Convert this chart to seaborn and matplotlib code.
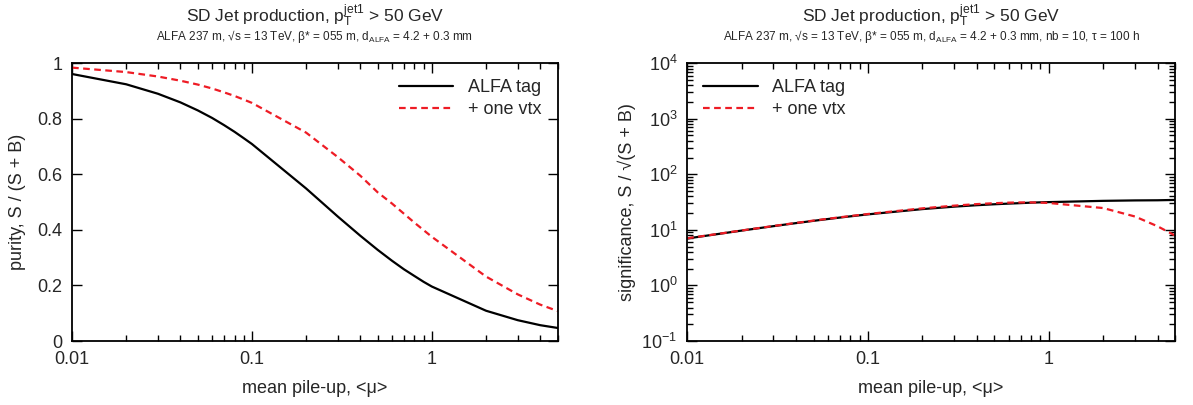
import numpy as np
import pandas as pd
import matplotlib
matplotlib.use("Agg")
import matplotlib.pyplot as plt
import matplotlib.ticker as mticker
import seaborn as sns

# mean pile-up values
mu = [0.01, 0.02, 0.03, 0.04, 0.05, 0.06, 0.07, 0.08, 0.09,
      0.1, 0.2, 0.3, 0.4, 0.5, 0.6, 0.7, 0.8, 0.9,
      1, 2, 3, 4, 5]

# purity S/(S+B)
purity_tag = [0.961, 0.924, 0.890, 0.859, 0.830, 0.803, 0.777, 0.753, 0.730,
              0.709, 0.549, 0.448, 0.379, 0.328, 0.289, 0.258, 0.234, 0.213,
              0.196, 0.109, 0.075, 0.057, 0.047]
purity_vtx = [0.984, 0.968, 0.952, 0.937, 0.923, 0.909, 0.895, 0.882, 0.869,
              0.857, 0.750, 0.662, 0.595, 0.535, 0.495, 0.458, 0.426, 0.399,
              0.375, 0.232, 0.168, 0.131, 0.108]

# significance S/sqrt(S+B)
signif_tag = [7.0, 9.71, 11.67, 13.24, 14.55, 15.68, 16.66, 17.53, 18.31,
              19.02, 23.66, 26.2, 27.8, 28.9, 29.7, 30.3, 30.9, 31.3,
              31.6, 33.3, 33.9, 34.1, 34.6]
signif_vtx = [7.05, 9.75, 11.75, 13.35, 14.7, 15.85, 16.85, 17.75, 18.55,
              19.3, 24.4, 27.3, 29.1, 30.2, 30.9, 31.2, 31.2, 30.9,
              30.5, 24.7, 17.4, 11.6, 7.9]

labels = ["ALFA tag", "+ one vtx"]

sns.set_style("ticks")
plt.rcParams["font.family"] = ["Liberation Sans", "DejaVu Sans"]
plt.rcParams["mathtext.fontset"] = "custom"
plt.rcParams["mathtext.rm"] = "Liberation Sans"
plt.rcParams["mathtext.it"] = "Liberation Sans:italic"

fig = plt.figure(figsize=(11.93, 4.05), dpi=100)
ax1 = fig.add_axes([0.0604, 0.158, 0.407, 0.686])
ax2 = fig.add_axes([0.576, 0.158, 0.409, 0.686])

df_p = pd.DataFrame({"mu": mu * 2, "val": purity_tag + purity_vtx,
                     "sel": [labels[0]] * len(mu) + [labels[1]] * len(mu)})
df_s = pd.DataFrame({"mu": mu * 2, "val": signif_tag + signif_vtx,
                     "sel": [labels[0]] * len(mu) + [labels[1]] * len(mu)})

for ax, df in [(ax1, df_p), (ax2, df_s)]:
    sns.lineplot(data=df[df.sel == labels[0]], x="mu", y="val", ax=ax,
                 color="black", lw=1.6, label=labels[0])
    sns.lineplot(data=df[df.sel == labels[1]], x="mu", y="val", ax=ax,
                 color="#ee1c25", lw=1.6, dashes=(3, 2), label=labels[1])
    ax.set_xscale("log")
    ax.set_xlim(0.01, 5)
    ax.xaxis.set_major_locator(mticker.FixedLocator([0.01, 0.1, 1]))
    ax.xaxis.set_major_formatter(mticker.FixedFormatter(["0.01", "0.1", "1"]))
    ax.xaxis.set_minor_locator(mticker.LogLocator(base=10, subs=np.arange(2, 10), numticks=20))
    ax.xaxis.set_minor_formatter(mticker.NullFormatter())
    ax.tick_params(which="both", direction="in", top=True, right=True,
                   labelsize=13, width=1, color="black", pad=7)
    ax.tick_params(which="major", length=7)
    ax.tick_params(which="minor", length=4)
    for s in ax.spines.values():
        s.set_linewidth(1.3)
        s.set_color("black")
    ax.set_xlabel("mean pile-up, <μ>", fontsize=13, labelpad=9)
    ax.text(0.5, 1.15, r"SD Jet production, p$_{\mathrm{T}}^{\mathrm{jet1}}$ > 50 GeV",
            transform=ax.transAxes, ha="center", va="baseline", fontsize=12.5)

ax1.set_ylim(0, 1)
ax1.yaxis.set_major_locator(mticker.FixedLocator([0, 0.2, 0.4, 0.6, 0.8, 1]))
ax1.yaxis.set_major_formatter(mticker.FixedFormatter(["0", "0.2", "0.4", "0.6", "0.8", "1"]))
ax1.set_ylabel("purity, S / (S + B)", fontsize=13, labelpad=8)
ax1.text(0.5, 1.085, r"ALFA 237 m, √s = 13 TeV, β* = 055 m, d$_{\mathrm{ALFA}}$ = 4.2 + 0.3 mm",
         transform=ax1.transAxes, ha="center", va="baseline", fontsize=8.5)
ax1.legend(loc="upper right", frameon=False, fontsize=13, handlelength=3.0,
           borderaxespad=0.5, labelspacing=0.25)

ax2.set_yscale("log")
ax2.set_ylim(0.1, 1e4)
ax2.yaxis.set_major_locator(mticker.LogLocator(base=10, numticks=10))
ax2.yaxis.set_major_formatter(mticker.LogFormatterSciNotation())
ax2.yaxis.set_minor_locator(mticker.LogLocator(base=10, subs=np.arange(2, 10), numticks=20))
ax2.yaxis.set_minor_formatter(mticker.NullFormatter())
ax2.set_ylabel("significance, S / √(S + B)", fontsize=13, labelpad=4)
ax2.text(0.5, 1.085, r"ALFA 237 m, √s = 13 TeV, β* = 055 m, d$_{\mathrm{ALFA}}$ = 4.2 + 0.3 mm, nb = 10, τ = 100 h",
         transform=ax2.transAxes, ha="center", va="baseline", fontsize=8.5)
ax2.legend(loc="upper left", frameon=False, fontsize=13, handlelength=3.0,
           borderaxespad=0.5, labelspacing=0.25)

fig.savefig("out.png", dpi=100)
